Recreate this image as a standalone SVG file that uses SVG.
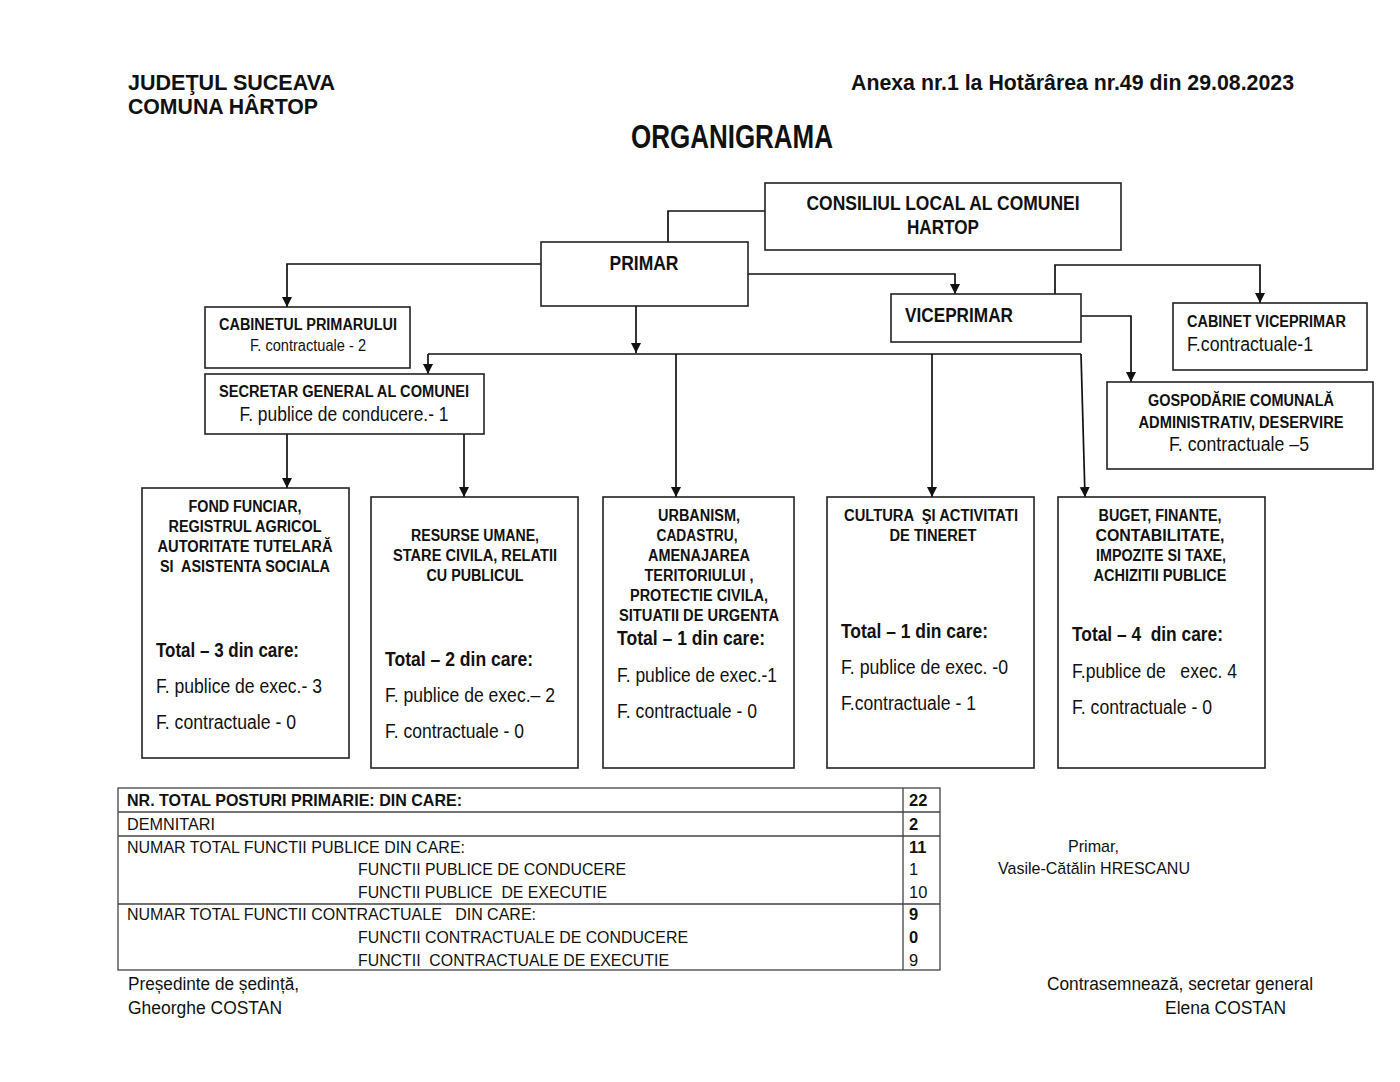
<svg xmlns="http://www.w3.org/2000/svg" width="1400" height="1082" viewBox="0 0 1400 1082">
<defs>
<marker id="arr" markerUnits="userSpaceOnUse" markerWidth="10" markerHeight="12" refX="10" refY="5" orient="auto" viewBox="0 0 10 10">
<path d="M0,0 L10,5 L0,10 z" fill="#111"/>
</marker>
<style>
text{white-space:pre}
.box{fill:#fff;stroke:#222;stroke-width:1.6}
.con{fill:none;stroke:#111;stroke-width:1.7}
.b{font-family:"Liberation Sans Narrow","Liberation Sans",Arial,sans-serif;font-weight:bold;fill:#111}
.r{font-family:"Liberation Sans Narrow","Liberation Sans",Arial,sans-serif;fill:#111}
.n{font-family:"Liberation Sans",Arial,sans-serif;fill:#111}
.c{text-anchor:middle}
</style>
</defs>
<rect width="1400" height="1082" fill="#fff"/>

<g id="header">
<text class="b" x="128" y="90" font-size="22.5" textLength="207" lengthAdjust="spacingAndGlyphs">JUDEŢUL SUCEAVA</text>
<text class="b" x="128" y="114" font-size="22.5" textLength="190" lengthAdjust="spacingAndGlyphs">COMUNA HÂRTOP</text>
<text class="b" x="851" y="90" font-size="22.5" textLength="443" lengthAdjust="spacingAndGlyphs">Anexa nr.1 la Hotărârea nr.49 din 29.08.2023</text>
<text class="b" x="631" y="148" font-size="33" textLength="202" lengthAdjust="spacingAndGlyphs">ORGANIGRAMA</text>
</g>

<g id="connectors">
<path class="con" d="M765,211 H668 V242"/>
<path class="con" d="M541,264 H287 V307" marker-end="url(#arr)"/>
<path class="con" d="M748,274 H955 V294" marker-end="url(#arr)"/>
<path class="con" d="M636,306 V353" marker-end="url(#arr)"/>
<path class="con" d="M428,354 H1081"/>
<path class="con" d="M428,354 V374" marker-end="url(#arr)"/>
<path class="con" d="M676,354 V497" marker-end="url(#arr)"/>
<path class="con" d="M932,354 V497" marker-end="url(#arr)"/>
<path class="con" d="M1081,354 L1085,497" marker-end="url(#arr)"/>
<path class="con" d="M287,434 V488" marker-end="url(#arr)"/>
<path class="con" d="M464,434 V497" marker-end="url(#arr)"/>
<path class="con" d="M1055,294 V265 H1260 V303" marker-end="url(#arr)"/>
<path class="con" d="M1081,316 H1131 V382" marker-end="url(#arr)"/>
</g>

<g id="consiliul">
<rect class="box" x="765" y="183" width="356" height="67"/>
<text class="b c" x="943" y="210" font-size="20.5" textLength="273" lengthAdjust="spacingAndGlyphs">CONSILIUL LOCAL AL COMUNEI</text>
<text class="b c" x="943" y="234" font-size="20.5" textLength="72" lengthAdjust="spacingAndGlyphs">HARTOP</text>
</g>

<g id="primar">
<rect class="box" x="541" y="242" width="207" height="64"/>
<text class="b c" x="644" y="270" font-size="20.5" textLength="69" lengthAdjust="spacingAndGlyphs">PRIMAR</text>
</g>

<g id="viceprimar">
<rect class="box" x="891" y="294" width="190" height="48"/>
<text class="b" x="905" y="322" font-size="20.5" textLength="108" lengthAdjust="spacingAndGlyphs">VICEPRIMAR</text>
</g>

<g id="cabinet-primar">
<rect class="box" x="205" y="307" width="205" height="61"/>
<text class="b c" x="308" y="330" font-size="16" textLength="178" lengthAdjust="spacingAndGlyphs">CABINETUL PRIMARULUI</text>
<text class="r c" x="308" y="351" font-size="16" textLength="116" lengthAdjust="spacingAndGlyphs">F. contractuale - 2</text>
</g>

<g id="cabinet-viceprimar">
<rect class="box" x="1173" y="303" width="194" height="67"/>
<text class="b" x="1187" y="327" font-size="16" textLength="159" lengthAdjust="spacingAndGlyphs">CABINET VICEPRIMAR</text>
<text class="r" x="1187" y="351" font-size="20" textLength="126" lengthAdjust="spacingAndGlyphs">F.contractuale-1</text>
</g>

<g id="gospodarie">
<rect class="box" x="1107" y="382" width="266" height="87"/>
<text class="b c" x="1241" y="406" font-size="16" textLength="186" lengthAdjust="spacingAndGlyphs">GOSPODĂRIE COMUNALĂ</text>
<text class="b c" x="1241" y="428" font-size="16" textLength="205" lengthAdjust="spacingAndGlyphs">ADMINISTRATIV, DESERVIRE</text>
<text class="r c" x="1239" y="451" font-size="20" textLength="140" lengthAdjust="spacingAndGlyphs">F. contractuale –5</text>
</g>

<g id="secretar">
<rect class="box" x="205" y="374" width="279" height="60"/>
<text class="b c" x="344" y="397" font-size="16" textLength="250" lengthAdjust="spacingAndGlyphs">SECRETAR GENERAL AL COMUNEI</text>
<text class="r c" x="344" y="421" font-size="20" textLength="209" lengthAdjust="spacingAndGlyphs">F. publice de conducere.- 1</text>
</g>

<g id="fond-funciar">
<rect class="box" x="142" y="488" width="207" height="270"/>
<text class="b c" x="245" y="512" font-size="16" textLength="113" lengthAdjust="spacingAndGlyphs">FOND FUNCIAR,</text>
<text class="b c" x="245" y="532" font-size="16" textLength="153" lengthAdjust="spacingAndGlyphs">REGISTRUL AGRICOL</text>
<text class="b c" x="245" y="552" font-size="16" textLength="175" lengthAdjust="spacingAndGlyphs">AUTORITATE TUTELARĂ</text>
<text class="b c" x="245" y="572" font-size="16" textLength="170" lengthAdjust="spacingAndGlyphs">SI  ASISTENTA SOCIALA</text>
<text class="b" x="156" y="657" font-size="20" textLength="143" lengthAdjust="spacingAndGlyphs">Total – 3 din care:</text>
<text class="r" x="156" y="693" font-size="20" textLength="166" lengthAdjust="spacingAndGlyphs">F. publice de exec.- 3</text>
<text class="r" x="156" y="729" font-size="20" textLength="140" lengthAdjust="spacingAndGlyphs">F. contractuale - 0</text>
</g>

<g id="resurse-umane">
<rect class="box" x="371" y="497" width="207" height="271"/>
<text class="b c" x="475" y="541" font-size="16" textLength="128" lengthAdjust="spacingAndGlyphs">RESURSE UMANE,</text>
<text class="b c" x="475" y="561" font-size="16" textLength="164" lengthAdjust="spacingAndGlyphs">STARE CIVILA, RELATII</text>
<text class="b c" x="475" y="581" font-size="16" textLength="97" lengthAdjust="spacingAndGlyphs">CU PUBLICUL</text>
<text class="b" x="385" y="666" font-size="20" textLength="148" lengthAdjust="spacingAndGlyphs">Total – 2 din care:</text>
<text class="r" x="385" y="702" font-size="20" textLength="170" lengthAdjust="spacingAndGlyphs">F. publice de exec.– 2</text>
<text class="r" x="385" y="738" font-size="20" textLength="139" lengthAdjust="spacingAndGlyphs">F. contractuale - 0</text>
</g>

<g id="urbanism">
<rect class="box" x="603" y="497" width="191" height="271"/>
<text class="b c" x="699" y="521" font-size="16" textLength="82" lengthAdjust="spacingAndGlyphs">URBANISM,</text>
<text class="b c" x="697" y="541" font-size="16" textLength="81" lengthAdjust="spacingAndGlyphs">CADASTRU,</text>
<text class="b c" x="699" y="561" font-size="16" textLength="102" lengthAdjust="spacingAndGlyphs">AMENAJAREA</text>
<text class="b c" x="699" y="581" font-size="16" textLength="109" lengthAdjust="spacingAndGlyphs">TERITORIULUI ,</text>
<text class="b c" x="699" y="601" font-size="16" textLength="138" lengthAdjust="spacingAndGlyphs">PROTECTIE CIVILA,</text>
<text class="b c" x="699" y="621" font-size="16" textLength="160" lengthAdjust="spacingAndGlyphs">SITUATII DE URGENTA</text>
<text class="b" x="617" y="645" font-size="20" textLength="148" lengthAdjust="spacingAndGlyphs">Total – 1 din care:</text>
<text class="r" x="617" y="682" font-size="20" textLength="160" lengthAdjust="spacingAndGlyphs">F. publice de exec.-1</text>
<text class="r" x="617" y="718" font-size="20" textLength="140" lengthAdjust="spacingAndGlyphs">F. contractuale - 0</text>
</g>

<g id="cultura">
<rect class="box" x="827" y="497" width="207" height="271"/>
<text class="b c" x="931" y="521" font-size="16" textLength="174" lengthAdjust="spacingAndGlyphs">CULTURA  ŞI ACTIVITATI</text>
<text class="b c" x="933" y="541" font-size="16" textLength="87" lengthAdjust="spacingAndGlyphs">DE TINERET</text>
<text class="b" x="841" y="638" font-size="20" textLength="147" lengthAdjust="spacingAndGlyphs">Total – 1 din care:</text>
<text class="r" x="841" y="674" font-size="20" textLength="167" lengthAdjust="spacingAndGlyphs">F. publice de exec. -0</text>
<text class="r" x="841" y="710" font-size="20" textLength="135" lengthAdjust="spacingAndGlyphs">F.contractuale - 1</text>
</g>

<g id="buget">
<rect class="box" x="1058" y="497" width="207" height="271"/>
<text class="b c" x="1160" y="521" font-size="16" textLength="123" lengthAdjust="spacingAndGlyphs">BUGET, FINANTE,</text>
<text class="b c" x="1160" y="541" font-size="16" textLength="129" lengthAdjust="spacingAndGlyphs">CONTABILITATE,</text>
<text class="b c" x="1161" y="561" font-size="16" textLength="130" lengthAdjust="spacingAndGlyphs">IMPOZITE SI TAXE,</text>
<text class="b c" x="1160" y="581" font-size="16" textLength="133" lengthAdjust="spacingAndGlyphs">ACHIZITII PUBLICE</text>
<text class="b" x="1072" y="641" font-size="20" textLength="151" lengthAdjust="spacingAndGlyphs">Total – 4  din care:</text>
<text class="r" x="1072" y="678" font-size="20" textLength="165" lengthAdjust="spacingAndGlyphs">F.publice de   exec. 4</text>
<text class="r" x="1072" y="714" font-size="20" textLength="140" lengthAdjust="spacingAndGlyphs">F. contractuale - 0</text>
</g>

<g id="table">
<rect x="118" y="788" width="822" height="182" fill="#fff" stroke="#444" stroke-width="1.3"/>
<path d="M118,812 H940 M118,836 H940 M118,904 H940 M903,788 V970" stroke="#444" stroke-width="1.3" fill="none"/>
<text class="b" x="127" y="806" font-size="16.5" textLength="335" lengthAdjust="spacingAndGlyphs">NR. TOTAL POSTURI PRIMARIE: DIN CARE:</text>
<text class="b" x="909" y="806" font-size="16.5">22</text>
<text class="r" x="127" y="830" font-size="16.5" textLength="88" lengthAdjust="spacingAndGlyphs">DEMNITARI</text>
<text class="b" x="909" y="830" font-size="16.5">2</text>
<text class="r" x="127" y="853" font-size="16.5" textLength="338" lengthAdjust="spacingAndGlyphs">NUMAR TOTAL FUNCTII PUBLICE DIN CARE:</text>
<text class="b" x="909" y="853" font-size="16.5">11</text>
<text class="r" x="358" y="875" font-size="16.5" textLength="268" lengthAdjust="spacingAndGlyphs">FUNCTII PUBLICE DE CONDUCERE</text>
<text class="r" x="909" y="875" font-size="16.5">1</text>
<text class="r" x="358" y="898" font-size="16.5" textLength="249" lengthAdjust="spacingAndGlyphs">FUNCTII PUBLICE  DE EXECUTIE</text>
<text class="r" x="909" y="898" font-size="16.5">10</text>
<text class="r" x="127" y="920" font-size="16.5" textLength="409" lengthAdjust="spacingAndGlyphs">NUMAR TOTAL FUNCTII CONTRACTUALE   DIN CARE:</text>
<text class="b" x="909" y="920" font-size="16.5">9</text>
<text class="r" x="358" y="943" font-size="16.5" textLength="330" lengthAdjust="spacingAndGlyphs">FUNCTII CONTRACTUALE DE CONDUCERE</text>
<text class="b" x="909" y="943" font-size="16.5">0</text>
<text class="r" x="358" y="966" font-size="16.5" textLength="311" lengthAdjust="spacingAndGlyphs">FUNCTII  CONTRACTUALE DE EXECUTIE</text>
<text class="r" x="909" y="966" font-size="16.5">9</text>
</g>

<g id="signatures">
<text class="n" x="1068" y="852" font-size="17" textLength="51" lengthAdjust="spacingAndGlyphs">Primar,</text>
<text class="n" x="998" y="874" font-size="17" textLength="192" lengthAdjust="spacingAndGlyphs">Vasile-Cătălin HRESCANU</text>
<text class="n" x="128" y="990" font-size="18" textLength="171" lengthAdjust="spacingAndGlyphs">Președinte de ședință,</text>
<text class="n" x="128" y="1014" font-size="18" textLength="154" lengthAdjust="spacingAndGlyphs">Gheorghe COSTAN</text>
<text class="n" x="1047" y="990" font-size="18" textLength="266" lengthAdjust="spacingAndGlyphs">Contrasemnează, secretar general</text>
<text class="n" x="1165" y="1014" font-size="18" textLength="121" lengthAdjust="spacingAndGlyphs">Elena COSTAN</text>
</g>
</svg>
